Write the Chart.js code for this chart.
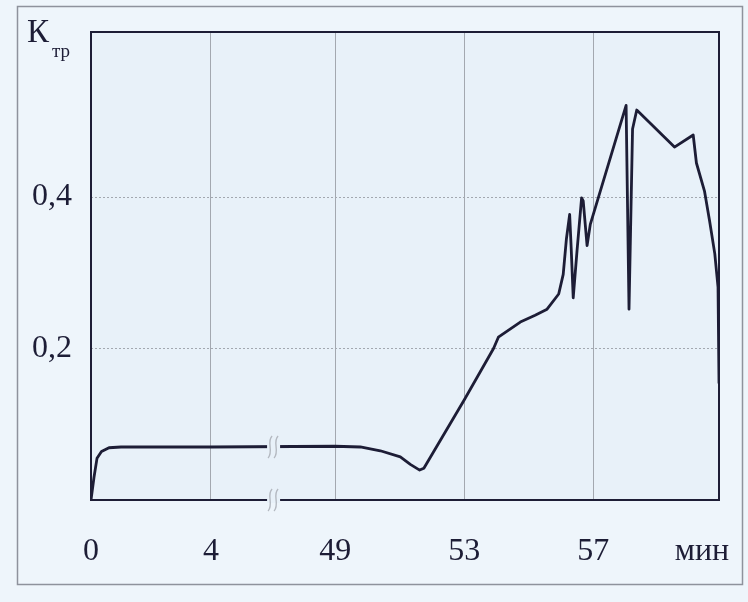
<!DOCTYPE html>
<html>
<head>
<meta charset="utf-8">
<script src="https://cdn.jsdelivr.net/npm/chart.js@4.4.1/dist/chart.umd.min.js"></script>
<style>
  html, body { margin: 0; padding: 0; background: #eef5fb; }
  canvas { display: block; }
</style>
</head>
<body>
<canvas id="chart" width="748" height="602"></canvas>
<script>
// time, min (axis is broken between 4 and 49 min)
var timeMin = [0, 0.1, 0.2, 0.35, 0.6, 1.0, 4, 49, 49.78, 50.4, 51.02, 51.33, 51.62, 51.75,
    53, 53.91, 54.06, 54.74, 55.2, 55.57, 55.93, 56.07, 56.17, 56.27, 56.32, 56.38, 56.5,
    56.64, 56.69, 56.81, 56.91, 58.02, 58.11, 58.22, 58.35, 59.52, 60.1, 60.2, 60.45,
    60.61, 60.77, 60.87, 60.9];
// friction coefficient
var ktr = [0, 0.03, 0.055, 0.064, 0.069, 0.070, 0.070, 0.071, 0.070, 0.065, 0.057, 0.047, 0.0395, 0.042,
    0.132, 0.200, 0.215, 0.235, 0.244, 0.252, 0.272, 0.298, 0.345, 0.377, 0.33, 0.267, 0.33,
    0.399, 0.395, 0.336, 0.364, 0.521, 0.252, 0.49, 0.515, 0.466, 0.482, 0.445, 0.408,
    0.368, 0.325, 0.281, 0.154];

var xTickMinutes = [0, 4, 49, 53, 57];
var xTickLabels = ['0', '4', '49', '53', '57'];
var xUnitMinute = 60.37;
var xUnitLabel = 'мин';
var yTickValues = [0.2, 0.4];

// broken time axis: first part slightly compressed, 4..49 squeezed
var breakFrom = 4, breakTo = 49;
var firstPartScale = 0.93, breakWidth = 3.85;
var xMaxMinute = 60.9;
var yMax = 0.618;

function toPos(t) {
    var firstEnd = breakFrom * firstPartScale;
    if (t <= breakFrom) return t * firstPartScale;
    if (t >= breakTo) return firstEnd + breakWidth + (t - breakTo);
    return firstEnd + (t - breakFrom) / (breakTo - breakFrom) * breakWidth;
}

var points = timeMin.map(function(t, k) { return {x: toPos(t), y: ktr[k]}; });

var serif = '"Liberation Serif", "DejaVu Serif", serif';
var ink = '#1d1d36';
var gridColor = '#a3a8b0';
var plotBg = '#e8f1f9';
var labelSize = 32;
var labelPad = 32;

var paperPlugin = {
    id: 'paper',
    beforeDraw: function(chart) {
        var c = chart.ctx, a = chart.chartArea;
        c.save();
        c.fillStyle = '#eef5fb';
        c.fillRect(0, 0, chart.width, chart.height);
        c.strokeStyle = '#8e929c';
        c.lineWidth = 1.5;
        c.strokeRect(17.5, 6.5, 725, 578);
        c.fillStyle = plotBg;
        c.fillRect(a.left, a.top, a.right - a.left, a.bottom - a.top);
        c.restore();
    },
    afterDatasetsDraw: function(chart) {
        var c = chart.ctx, a = chart.chartArea;
        var xs = chart.scales.x, ys = chart.scales.y;
        c.save();
        // frame
        c.strokeStyle = ink;
        c.lineWidth = 2;
        c.strokeRect(a.left, a.top, a.right - a.left, a.bottom - a.top);
        // axis break marks on the curve and on the bottom line
        var bx = xs.getPixelForValue((toPos(breakFrom) + toPos(breakTo)) / 2);
        [ys.getPixelForValue(0.070), a.bottom].forEach(function(by) {
            c.fillStyle = plotBg;
            c.fillRect(bx - 6, by - 3, 13, 6);
            c.strokeStyle = '#b4b9c1';
            c.lineWidth = 1.4;
            [-3, 3].forEach(function(dx) {
                var x0 = bx + dx;
                c.beginPath();
                c.moveTo(x0 + 2, by - 11);
                c.bezierCurveTo(x0 - 4, by - 5, x0 + 4, by + 4, x0 - 2, by + 11);
                c.stroke();
            });
        });
        c.restore();
    },
    afterDraw: function(chart) {
        var c = chart.ctx, xs = chart.scales.x;
        c.save();
        c.fillStyle = ink;
        c.textBaseline = 'alphabetic';
        c.font = '33px ' + serif;
        c.fillText('К', 27, 42);
        c.font = '19px ' + serif;
        c.fillText('тр', 52, 57);
        // unit label in the tick row
        c.font = labelSize + 'px ' + serif;
        c.textAlign = 'center';
        c.textBaseline = 'middle';
        c.fillText(xUnitLabel, xs.getPixelForValue(toPos(xUnitMinute)), xs.top + labelPad + labelSize * 0.6);
        c.restore();
    }
};

new Chart(document.getElementById('chart'), {
    type: 'line',
    data: {
        datasets: [{
            data: points,
            borderColor: ink,
            borderWidth: 2.8,
            borderJoinStyle: 'round',
            pointRadius: 0,
            tension: 0,
            fill: false
        }]
    },
    options: {
        responsive: false,
        animation: false,
        layout: { padding: { top: 32, right: 29, left: 0, bottom: 0 } },
        plugins: { legend: { display: false }, tooltip: { enabled: false } },
        scales: {
            x: {
                type: 'linear',
                min: 0,
                max: toPos(xMaxMinute),
                afterFit: function(s) { s.height = 102; },
                afterBuildTicks: function(s) {
                    s.ticks = xTickMinutes.map(function(t) { return {value: toPos(t)}; });
                },
                ticks: {
                    font: { family: serif, size: labelSize },
                    color: ink,
                    padding: labelPad,
                    maxRotation: 0,
                    autoSkip: false,
                    callback: function(v, i) { return xTickLabels[i]; }
                },
                grid: {
                    drawTicks: false,
                    lineWidth: 1,
                    color: function(ctx) {
                        if (!ctx.tick || ctx.tick.value === 0) return 'rgba(0,0,0,0)';
                        return gridColor;
                    }
                },
                border: { display: false }
            },
            y: {
                min: 0,
                max: yMax,
                afterFit: function(s) { s.width = 91; },
                afterBuildTicks: function(s) {
                    s.ticks = yTickValues.map(function(v) { return {value: v}; });
                },
                ticks: {
                    font: { family: serif, size: labelSize, lineHeight: 0.5 },
                    color: ink,
                    padding: 19,
                    callback: function(v) { return v.toFixed(1).replace('.', ','); }
                },
                grid: { drawTicks: false, lineWidth: 1, color: gridColor },
                border: { display: false, dash: [2, 2] }
            }
        }
    },
    plugins: [paperPlugin]
});
</script>
</body>
</html>
